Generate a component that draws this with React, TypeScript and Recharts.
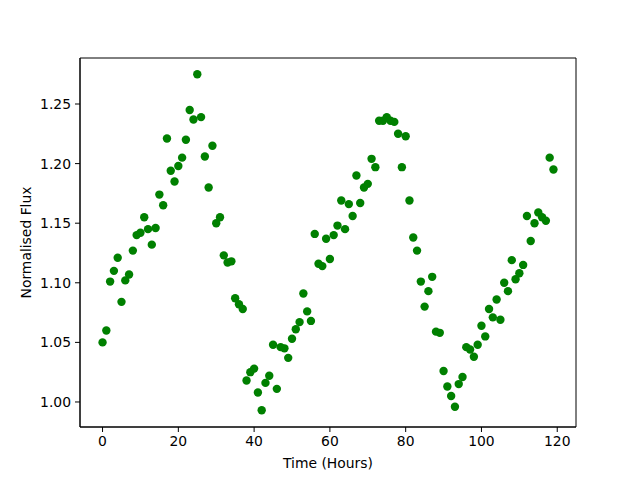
import { ScatterChart, Scatter, XAxis, YAxis, ReferenceArea } from "recharts";

const hours = [
  0, 1, 2, 3, 4, 5, 6, 7, 8, 9, 10, 11, 12, 13, 14, 15, 16, 17, 18, 19,
  20, 21, 22, 23, 24, 25, 26, 27, 28, 29, 30, 31, 32, 33, 34, 35, 36, 37, 38, 39,
  40, 41, 42, 43, 44, 45, 46, 47, 48, 49, 50, 51, 52, 53, 54, 55, 56, 57, 58, 59,
  60, 61, 62, 63, 64, 65, 66, 67, 68, 69, 70, 71, 72, 73, 74, 75, 76, 77, 78, 79,
  80, 81, 82, 83, 84, 85, 86, 87, 88, 89, 90, 91, 92, 93, 94, 95, 96, 97, 98, 99,
  100, 101, 102, 103, 104, 105, 106, 107, 108, 109, 110, 111, 112, 113, 114, 115, 116, 117, 118, 119,
];

const flux = [
  1.05, 1.06, 1.101, 1.11, 1.121, 1.084, 1.102, 1.107, 1.127, 1.14,
  1.142, 1.155, 1.145, 1.132, 1.146, 1.174, 1.165, 1.221, 1.194, 1.185,
  1.198, 1.205, 1.22, 1.245, 1.237, 1.275, 1.239, 1.206, 1.18, 1.215,
  1.15, 1.155, 1.123, 1.117, 1.118, 1.087, 1.082, 1.078, 1.018, 1.025,
  1.028, 1.008, 0.993, 1.016, 1.022, 1.048, 1.011, 1.046, 1.045, 1.037,
  1.053, 1.061, 1.067, 1.091, 1.076, 1.068, 1.141, 1.116, 1.114, 1.137,
  1.12, 1.14, 1.148, 1.169, 1.145, 1.166, 1.156, 1.19, 1.167, 1.18,
  1.183, 1.204, 1.197, 1.236, 1.236, 1.239, 1.236, 1.235, 1.225, 1.197,
  1.223, 1.169, 1.138, 1.127, 1.101, 1.08, 1.093, 1.105, 1.059, 1.058,
  1.026, 1.013, 1.005, 0.996, 1.015, 1.021, 1.046, 1.044, 1.038, 1.048,
  1.064, 1.055, 1.078, 1.071, 1.086, 1.069, 1.1, 1.093, 1.119, 1.103,
  1.108, 1.115, 1.156, 1.135, 1.15, 1.159, 1.155, 1.152, 1.205, 1.195,
];

const xTicks = [0, 20, 40, 60, 80, 100, 120];
const yTicks = [1.0, 1.05, 1.1, 1.15, 1.2, 1.25];

const xDomain: [number, number] = [-5.95, 124.95];
const yDomain: [number, number] = [0.979, 1.2886];

const data = hours.map((t, i) => ({ time: t, flux: flux[i] }));

const FONT = "'DejaVu Sans', sans-serif";
const tickStyle = { fill: "#000", fontSize: 13.9, fontFamily: FONT };

const Dot = (props: any) => (
  <circle cx={props.cx} cy={props.cy} r={4.2} fill="#008000" />
);

const XLabel = ({ viewBox }: any) => (
  <text
    x={viewBox.x + viewBox.width / 2}
    y={viewBox.y + 36}
    textAnchor="middle"
    dominantBaseline="central"
    fontSize={13.9}
    fontFamily={FONT}
    fill="#000"
  >
    Time (Hours)
  </text>
);

const YLabel = ({ viewBox }: any) => {
  const cx = viewBox.x + 26;
  const cy = viewBox.y + viewBox.height / 2;
  return (
    <text
      x={cx}
      y={cy}
      transform={`rotate(-90 ${cx} ${cy})`}
      textAnchor="middle"
      dominantBaseline="central"
      fontSize={13.9}
      fontFamily={FONT}
      fill="#000"
    >
      Normalised Flux
    </text>
  );
};

export default function App() {
  return (
    <div
      style={{
        position: "absolute",
        left: 0,
        top: 0,
        width: 640,
        height: 480,
        background: "#fff",
      }}
    >
      <ScatterChart
        width={640}
        height={480}
        margin={{ top: 58, right: 64, bottom: 0, left: 0 }}
      >
        <XAxis
          type="number"
          dataKey="time"
          domain={xDomain}
          allowDataOverflow
          ticks={xTicks}
          height={53}
          tickSize={5}
          tickMargin={4}
          tick={tickStyle}
          axisLine={{ stroke: "#000" }}
          tickLine={{ stroke: "#000" }}
          label={{ content: XLabel }}
        />
        <YAxis
          type="number"
          dataKey="flux"
          domain={yDomain}
          allowDataOverflow
          ticks={yTicks}
          width={80}
          tickSize={5}
          tickMargin={4}
          tick={tickStyle}
          tickFormatter={(v: number) => v.toFixed(2)}
          axisLine={{ stroke: "#000" }}
          tickLine={{ stroke: "#000" }}
          label={{ content: YLabel }}
        />
        <ReferenceArea
          x1={xDomain[0]}
          x2={xDomain[1]}
          y1={yDomain[0]}
          y2={yDomain[1]}
          fill="none"
          stroke="#000"
          strokeWidth={1}
          ifOverflow="visible"
        />
        <Scatter data={data} shape={Dot} isAnimationActive={false} />
      </ScatterChart>
    </div>
  );
}
